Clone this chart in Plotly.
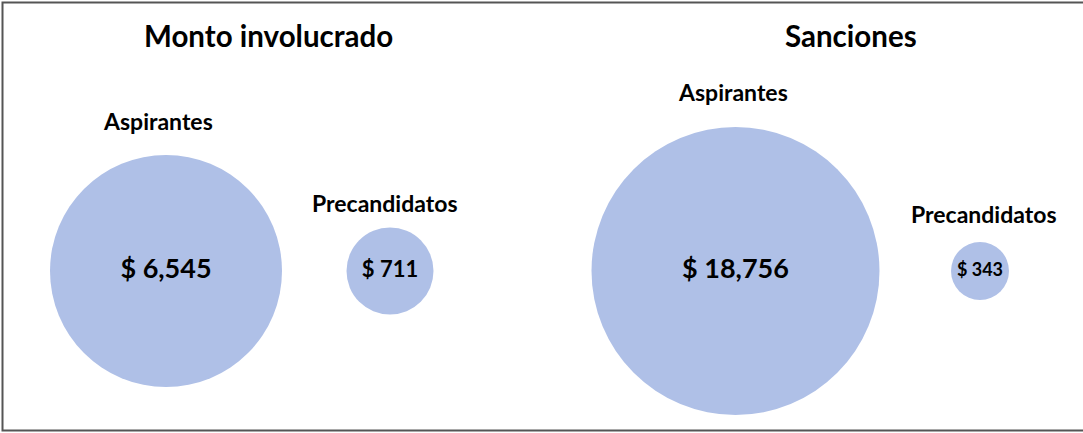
import plotly.graph_objects as go

# Data
panels = ["Monto involucrado", "Sanciones"]
categories = ["Aspirantes", "Precandidatos"]
monto_values = [6545, 711]
sanciones_values = [18756, 343]

# Styles (marker diameters in px, fonts, label offsets)
monto_sizes = [232, 87]
sanciones_sizes = [288, 58]
monto_value_fonts = [27, 22]
sanciones_value_fonts = [27, 18]
monto_label_gap = [24, 15]
sanciones_label_gap = [25, 18]
monto_label_dx = [-8, -5]
sanciones_label_dx = [-3, 4]
title_fonts = [29.5, 29.5]
fill = "#AFC0E7"
FONT = "Lato"

W, H = 1083, 433

fig = go.Figure()

def add_panel(values, sizes, vfonts, gaps, dxs, xa, ya, title, title_x, tfont):
    fig.add_trace(go.Scatter(
        x=list(range(len(categories))), y=[0] * len(categories),
        mode="markers+text",
        marker=dict(size=sizes, color=fill, line=dict(width=0), opacity=1),
        text=[f"$ {v:,}" for v in values],
        textposition="middle center",
        textfont=dict(family=FONT, size=vfonts, color="black", weight="bold"),
        xaxis=xa, yaxis=ya, hoverinfo="skip", showlegend=False,
    ))
    for i, c in enumerate(categories):
        fig.add_annotation(
            x=i, y=0, xref=xa, yref=ya, text=f"<b>{c}</b>", showarrow=False,
            yshift=sizes[i] / 2 + gaps[i] + 10, xshift=dxs[i], yanchor="middle",
            font=dict(family=FONT, size=23, color="black"),
        )
    fig.add_annotation(
        x=title_x, y=1 - 36 / H, xref="paper", yref="paper",
        text=f"<b>{title}</b>", showarrow=False, yanchor="middle", xanchor="center",
        font=dict(family=FONT, size=tfont, color="black"),
    )

add_panel(monto_values, monto_sizes, monto_value_fonts, monto_label_gap, monto_label_dx,
          "x", "y", panels[0], 268.5 / W, title_fonts[0])
add_panel(sanciones_values, sanciones_sizes, sanciones_value_fonts, sanciones_label_gap,
          sanciones_label_dx, "x2", "y2", panels[1], 851 / W, title_fonts[1])

half = W / 2
# left: x=0 at 166px, x=1 at 390px
s1 = 224.0
r1 = [-166 / s1, (half - 166) / s1]
# right: x=0 at 735.5px, x=1 at 980px
s2 = 244.5
r2 = [-(735.5 - half) / s2, (W - 735.5) / s2]
# y: 0 at ~271px from top
yc = (H - 271) / H
yr = [-yc, 1 - yc]

ax = dict(visible=False, fixedrange=True)
fig.update_layout(
    width=W, height=H,
    margin=dict(l=0, r=0, t=0, b=0),
    paper_bgcolor="white", plot_bgcolor="rgba(0,0,0,0)",
    xaxis=dict(domain=[0, 0.5], range=r1, **ax),
    yaxis=dict(domain=[0, 1], range=yr, **ax),
    xaxis2=dict(domain=[0.5, 1], range=r2, anchor="y2", **ax),
    yaxis2=dict(domain=[0, 1], range=yr, anchor="x2", **ax),
    shapes=[dict(type="rect", xref="paper", yref="paper",
                 x0=2.5 / W, x1=1.01, y0=(H - 430.5) / H, y1=1 - 2.5 / H,
                 line=dict(color="#555555", width=2), fillcolor="rgba(0,0,0,0)")],
)

fig.write_html(
    "out.html",
    config={"displayModeBar": False},
    post_script="document.body.style.margin='0';document.body.style.overflow='hidden';",
)
